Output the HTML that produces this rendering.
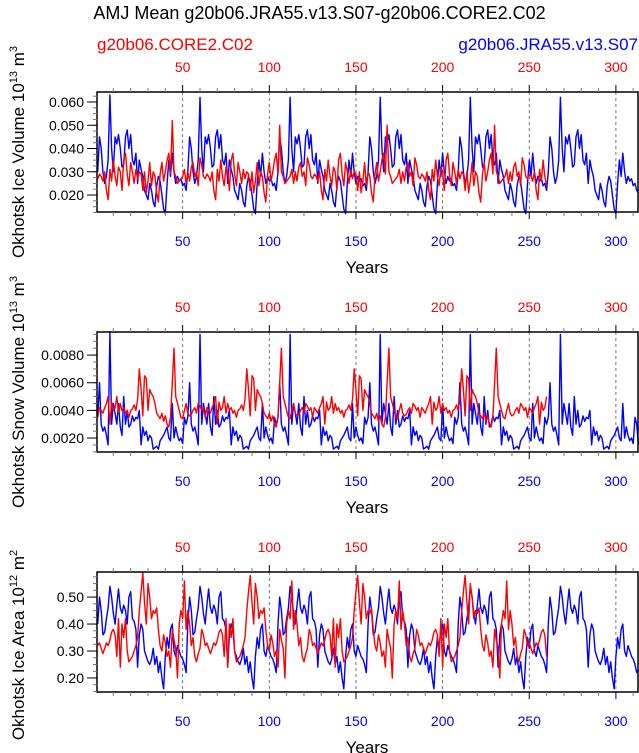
<!DOCTYPE html>
<html><head><meta charset="utf-8"><style>
body{margin:0;background:#fff;}
svg{display:block;font-family:"Liberation Sans",Arial,sans-serif;}
</style></head><body>
<svg id="chart" width="639" height="753" viewBox="0 0 639 753" xmlns="http://www.w3.org/2000/svg">
<text x="319.5" y="19" font-size="18" text-anchor="middle">AMJ Mean g20b06.JRA55.v13.S07-g20b06.CORE2.C02</text>
<text x="97" y="50" font-size="17" fill="#ff0000">g20b06.CORE2.C02</text>
<text x="638" y="50" font-size="17" fill="#0000ff" text-anchor="end">g20b06.JRA55.v13.S07</text>
</svg>
<script>
const iceVolScale = 0.001;
const snowVolScale = 0.0001;
const areaScale = 0.01;
const iceVolBlue = [30,45,40,30,25,28,35,63,40,30,45,42,46,40,32,33,45,48,40,46,35,33,38,25,35,31,28,22,20,18,25,22,17,15,24,28,26,20,14,12,25,35,28,38,30,25,28,26,27,24,25,22,
30,45,40,30,25,28,35,62,40,30,45,42,46,40,32,33,45,48,40,46,35,33,38,25,35,31,28,22,20,18,25,22,17,15,24,28,26,20,14,12,25,35,28,38,30,25,28,26,27,24,25,22,
30,45,40,30,25,28,35,62,40,30,45,42,46,40,32,33,45,48,40,46,35,33,38,25,35,31,28,22,20,18,25,22,17,15,24,28,26,20,14,12,25,35,28,38,30,25,28,26,27,24,25,22,
30,45,40,30,25,28,35,62,40,30,45,42,46,40,32,33,45,48,40,46,35,33,38,25,35,31,28,22,20,18,25,22,17,15,24,28,26,20,14,12,25,35,28,38,30,25,28,26,27,24,25,22,
30,45,40,30,25,28,35,62,40,30,45,42,46,40,32,33,45,48,40,46,35,33,38,25,35,31,28,22,20,18,25,22,17,15,24,28,26,20,14,12,25,35,28,38,30,25,28,26,27,24,25,22,
30,45,40,30,25,28,35,62,40,30,45,42,46,40,32,33,45,48,40,46,35,33,38,25,35,31,28,22,20,18,25,22,17,15,24,28,26,20,14,12,25,35,28,38,30,25,28,26,27,24,25,22,
21];
const iceVolRed = [27,29,28,26,30,22,18,31,26,35,28,24,32,30,22,35,38,29,24,34,30,25,31,27,30,29,22,30,21,26,34,24,30,28,21,17,29,34,26,30,35,38,29,52,30,28,25,26,27,28,31,25,30,26,32,34,28,30,24,36,33,28,
27,29,28,26,30,22,18,31,26,35,28,24,32,30,22,35,38,29,24,34,30,25,31,27,30,29,22,30,21,26,34,24,30,28,21,17,29,34,26,30,35,38,29,50,30,28,25,26,27,28,31,25,30,26,32,34,28,30,24,36,33,28,
27,29,28,26,30,22,18,31,26,35,28,24,32,30,22,35,38,29,24,34,30,25,31,27,30,29,22,30,21,26,34,24,30,28,21,17,29,34,26,30,35,38,29,50,30,28,25,26,27,28,31,25,30,26,32,34,28,30,24,36,33,28,
27,29,28,26,30,22,18,31,26,35,28,24,32,30,22,35,38,29,24,34,30,25,31,27,30,29,22,30,21,26,34,24,30,28,21,17,29,34,26,30,35,38,29,50,30,28,25,26,27,28,31,25,30,26,32,34,28,30,24,36,33,28,
27,29,28,26,30,22,18,31,26,35,28,24];
const snowVolBlue = [35,60,30,25,28,22,15,97,30,45,38,30,45,28,22,50,30,40,28,30,36,32,35,34,40,15,28,22,25,18,22,20,12,13,14,12,18,20,22,25,28,20,18,45,20,28,22,18,20,16,35,30,
35,60,30,25,28,22,15,95,30,45,38,30,45,28,22,50,30,40,28,30,36,32,35,34,40,15,28,22,25,18,22,20,12,13,14,12,18,20,22,25,28,20,18,45,20,28,22,18,20,16,35,30,
35,60,30,25,28,22,15,95,30,45,38,30,45,28,22,50,30,40,28,30,36,32,35,34,40,15,28,22,25,18,22,20,12,13,14,12,18,20,22,25,28,20,18,45,20,28,22,18,20,16,35,30,
35,60,30,25,28,22,15,95,30,45,38,30,45,28,22,50,30,40,28,30,36,32,35,34,40,15,28,22,25,18,22,20,12,13,14,12,18,20,22,25,28,20,18,45,20,28,22,18,20,16,35,30,
35,60,30,25,28,22,15,95,30,45,38,30,45,28,22,50,30,40,28,30,36,32,35,34,40,15,28,22,25,18,22,20,12,13,14,12,18,20,22,25,28,20,18,45,20,28,22,18,20,16,35,30,
35,60,30,25,28,22,15,95,30,45,38,30,45,28,22,50,30,40,28,30,36,32,35,34,40,15,28,22,25,18,22,20,12,13,14,12,18,20,22,25,28,20,18,45,20,28,22,18,20,16,35,30,
15];
const snowVolRed = [35,42,40,38,42,45,50,30,46,40,42,50,38,45,40,42,38,40,35,40,41,44,40,48,70,55,36,65,63,40,55,52,50,45,38,36,34,38,32,36,30,28,35,60,85,50,45,40,35,34,40,45,38,36,37,40,42,38,45,43,40,42,
35,42,40,38,42,45,50,30,46,40,42,50,38,45,40,42,38,40,35,40,41,44,40,48,70,55,36,65,63,40,55,52,50,45,38,36,34,38,32,36,30,28,35,60,85,50,45,40,35,34,40,45,38,36,37,40,42,38,45,43,40,42,
35,42,40,38,42,45,50,30,46,40,42,50,38,45,40,42,38,40,35,40,41,44,40,48,70,55,36,65,63,40,55,52,50,45,38,36,34,38,32,36,30,28,35,60,85,50,45,40,35,34,40,45,38,36,37,40,42,38,45,43,40,42,
35,42,40,38,42,45,50,30,46,40,42,50,38,45,40,42,38,40,35,40,41,44,40,48,70,55,36,65,63,40,55,52,50,45,38,36,34,38,32,36,30,28,35,60,85,50,45,40,35,34,40,45,38,36,37,40,42,38,45,43,40,42,
35,42,40,38,42,45,50,30,46,40,42,50];
const areaBlue = [40,50,45,36,37,42,46,54,50,44,40,47,53,46,44,47,45,40,50,52,42,41,38,24,36,40,38,30,28,26,25,27,31,25,28,22,26,20,16,28,35,31,38,40,30,28,32,30,28,27,25,22,
40,50,45,36,37,42,46,54,50,44,40,47,53,46,44,47,45,40,50,52,42,41,38,24,36,40,38,30,28,26,25,27,31,25,28,22,26,20,16,28,35,31,38,40,30,28,32,30,28,27,25,22,
40,50,45,36,37,42,46,54,50,44,40,47,53,46,44,47,45,40,50,52,42,41,38,24,36,40,38,30,28,26,25,27,31,25,28,22,26,20,16,28,35,31,38,40,30,28,32,30,28,27,25,22,
40,50,45,36,37,42,46,54,50,44,40,47,53,46,44,47,45,40,50,52,42,41,38,24,36,40,38,30,28,26,25,27,31,25,28,22,26,20,16,28,35,31,38,40,30,28,32,30,28,27,25,22,
40,50,45,36,37,42,46,54,50,44,40,47,53,46,44,47,45,40,50,52,42,41,38,24,36,40,38,30,28,26,25,27,31,25,28,22,26,20,16,28,35,31,38,40,30,28,32,30,28,27,25,22,
40,50,45,36,37,42,46,54,50,44,40,47,53,46,44,47,45,40,50,52,42,41,38,24,36,40,38,30,28,26,25,27,31,25,28,22,26,20,16,28,35,31,38,40,30,28,32,30,28,27,25,22,
23];
const areaRed = [32,33,31,29,31,33,32,34,37,38,36,28,42,24,40,35,42,30,26,27,28,30,32,35,45,52,59,48,40,55,50,42,45,44,46,38,32,30,36,33,28,30,24,38,34,31,20,40,45,42,56,38,45,40,32,35,28,26,29,31,38,36,
32,33,31,29,31,33,32,34,37,38,36,28,42,24,40,35,42,30,26,27,28,30,32,35,45,52,58,48,40,55,50,42,45,44,46,38,32,30,36,33,28,30,24,38,34,31,20,40,45,42,56,38,45,40,32,35,28,26,29,31,38,36,
32,33,31,29,31,33,32,34,37,38,36,28,42,24,40,35,42,30,26,27,28,30,32,35,45,52,58,48,40,55,50,42,45,44,46,38,32,30,36,33,28,30,24,38,34,31,20,40,45,42,56,38,45,40,32,35,28,26,29,31,38,36,
32,33,31,29,31,33,32,34,37,38,36,28,42,24,40,35,42,30,26,27,28,30,32,35,45,52,58,48,40,55,50,42,45,44,46,38,32,30,36,33,28,30,24,38,34,31,20,40,45,42,56,38,45,40,32,35,28,26,29,31,38,36,
32,33,31,29,31,33,32,34,37,38,36,28];
const xTickLabels = [50,100,150,200,250,300];
const iceVolTicks = ["0.020","0.030","0.040","0.050","0.060"];
const snowVolTicks = ["0.0020","0.0040","0.0060","0.0080"];
const areaTicks = ["0.20","0.30","0.40","0.50"];

const NS = "http://www.w3.org/2000/svg";
const svg = document.getElementById('chart');
const L = 97, R = 638, H = 120;
const X0 = 96, XS = 1.733;
function xScale(yr){ return X0 + yr*XS; }
function mk(tag, attrs, parent){
  const e = document.createElementNS(NS, tag);
  for (const k in attrs) e.setAttribute(k, attrs[k]);
  (parent||svg).appendChild(e);
  return e;
}
function panel(cfg){
  const g = mk('g', {});
  
  
  const top = cfg.top, bot = top + H;
  const yScale = v => bot - (v - cfg.ymin) / (cfg.ymax - cfg.ymin) * H;
  // dashed grid lines
  xTickLabels.forEach(t => {
    const ln = mk('line', {x1:xScale(t), x2:xScale(t), y1:top, y2:bot, stroke:'#555', 'stroke-width':0.8, 'stroke-dasharray':'3,3'}, g);
    
    
  });
  // series
  function series(arr, scale, color, nm){
    const pts = arr.map((v,i) => xScale(i+1).toFixed(1) + ',' + yScale(v*scale).toFixed(1)).join(' ');
    const pl = mk('polyline', {points:pts, fill:'none', stroke:color, 'stroke-width':1.4, 'stroke-linejoin':'round'}, g);
    
    
  }
  series(cfg.blue, cfg.scale, '#0000ff', cfg.name + '-jra55-line');
  series(cfg.red, cfg.scale, '#ff0000', cfg.name + '-core2-line');
  // frame
  const fr = mk('rect', {x:L, y:top, width:R-L, height:H, fill:'none', stroke:'#000', 'stroke-width':1.5}, g);
  
  
  // x ticks (top and bottom, outward)
  for (let yr = 10; yr <= 310; yr += 10){
    const major = yr % 50 === 0;
    const len = major ? 7 : 4;
    const x = xScale(yr);
    mk('line', {x1:x, x2:x, y1:top, y2:top-len, stroke: major?'#000':'#777', 'stroke-width':1}, g);
    mk('line', {x1:x, x2:x, y1:bot, y2:bot+len, stroke: major?'#000':'#777', 'stroke-width':1}, g);
  }
  xTickLabels.forEach(t => {
    const a = mk('text', {x:xScale(t), y:top-20, 'font-size':14, fill:'#ff0000', 'text-anchor':'middle'}, g);
    a.textContent = t;
    
    
    const b = mk('text', {x:xScale(t), y:bot+34, 'font-size':14, fill:'#0000ff', 'text-anchor':'middle'}, g);
    b.textContent = t;
    
    
  });
  // y ticks
  for (let v = cfg.minorStart; v <= cfg.ymax + 1e-9; v += cfg.minorStep){
    const y = yScale(v);
    if (y < top - 0.5 || y > bot + 0.5) continue;
    mk('line', {x1:L, x2:L-4, y1:y, y2:y, stroke:'#777', 'stroke-width':1}, g);
  }
  cfg.ticks.forEach(t => {
    const y = yScale(parseFloat(t));
    mk('line', {x1:L, x2:L-10, y1:y, y2:y, stroke:'#000', 'stroke-width':1}, g);
    const tx = mk('text', {x:84, y:y+5, 'font-size':14, 'text-anchor':'end'}, g);
    tx.textContent = t;
    
    
  });
  // axis titles
  const yx = mk('text', {x:0, y:0, 'font-size':17, 'text-anchor':'middle', transform:'translate(24,' + cfg.titleY + ') rotate(-90)'}, g);
  yx.innerHTML = cfg.title + ' 10<tspan font-size="11" dy="-7">' + cfg.exp + '</tspan><tspan dy="7"> m</tspan><tspan font-size="11" dy="-7">' + cfg.unit + '</tspan>';
  
  
  const xt = mk('text', {x:367, y:bot+61, 'font-size':17, 'text-anchor':'middle'}, g);
  xt.textContent = 'Years';
  
  
}
panel({name:'ice-volume', top:92, ymin:0.0127, ymax:0.0643, blue:iceVolBlue, red:iceVolRed, scale:iceVolScale, ticks:iceVolTicks, minorStart:0.0125, minorStep:0.0025, title:'Okhotsk Ice Volume', exp:'13', unit:'3', titleY:152});
panel({name:'snow-volume', top:332, ymin:0.00099, ymax:0.00967, blue:snowVolBlue, red:snowVolRed, scale:snowVolScale, ticks:snowVolTicks, minorStart:0.001, minorStep:0.0005, title:'Okhotsk Snow Volume', exp:'13', unit:'3', titleY:392});
panel({name:'ice-area', top:572, ymin:0.148, ymax:0.593, blue:areaBlue, red:areaRed, scale:areaScale, ticks:areaTicks, minorStart:0.15, minorStep:0.025, title:'Okhotsk Ice Area', exp:'12', unit:'2', titleY:645});
</script>
</body></html>
